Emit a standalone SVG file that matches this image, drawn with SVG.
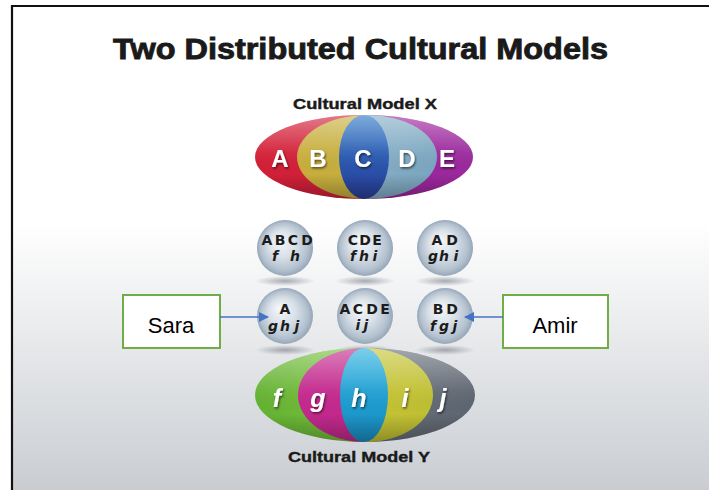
<svg xmlns="http://www.w3.org/2000/svg" width="709" height="490" viewBox="0 0 709 490">
<defs>
  <linearGradient id="bg" x1="0" y1="0" x2="0" y2="1">
    <stop offset="0" stop-color="#ffffff"/>
    <stop offset="0.45" stop-color="#ffffff"/>
    <stop offset="1" stop-color="#c9cdd2"/>
  </linearGradient>
  <linearGradient id="xOuter" x1="0" y1="0" x2="1" y2="0">
    <stop offset="0" stop-color="#d31f35"/>
    <stop offset="0.5" stop-color="#d0213f"/>
    <stop offset="0.5" stop-color="#a0229a"/>
    <stop offset="1" stop-color="#9a2a9e"/>
  </linearGradient>
  <linearGradient id="xMid" x1="0" y1="0" x2="1" y2="0">
    <stop offset="0" stop-color="#c9ad3c"/>
    <stop offset="0.5" stop-color="#c4b040"/>
    <stop offset="0.5" stop-color="#86aec6"/>
    <stop offset="1" stop-color="#7aa6bf"/>
  </linearGradient>
  <linearGradient id="xCen" x1="0" y1="0" x2="0" y2="1">
    <stop offset="0" stop-color="#2a74c4"/>
    <stop offset="1" stop-color="#2b3f9c"/>
  </linearGradient>
  <linearGradient id="yOuter" x1="0" y1="0" x2="1" y2="0">
    <stop offset="0" stop-color="#63b232"/>
    <stop offset="0.5" stop-color="#7cc23e"/>
    <stop offset="0.5" stop-color="#6a727c"/>
    <stop offset="1" stop-color="#5d6570"/>
  </linearGradient>
  <linearGradient id="yMid" x1="0" y1="0" x2="1" y2="0">
    <stop offset="0" stop-color="#c4288e"/>
    <stop offset="0.5" stop-color="#c22a8c"/>
    <stop offset="0.5" stop-color="#c6c436"/>
    <stop offset="1" stop-color="#bfbf32"/>
  </linearGradient>
  <linearGradient id="yCen" x1="0" y1="0" x2="0" y2="1">
    <stop offset="0" stop-color="#25aede"/>
    <stop offset="1" stop-color="#1a8fc4"/>
  </linearGradient>
  <linearGradient id="gloss" x1="0" y1="0" x2="0" y2="1">
    <stop offset="0" stop-color="#ffffff" stop-opacity="0.4"/>
    <stop offset="0.45" stop-color="#ffffff" stop-opacity="0.05"/>
    <stop offset="0.7" stop-color="#000000" stop-opacity="0"/>
    <stop offset="1" stop-color="#000000" stop-opacity="0.28"/>
  </linearGradient>
  <radialGradient id="sphere" cx="0.5" cy="0.5" r="0.5" fx="0.4" fy="0.35">
    <stop offset="0" stop-color="#f7f9fb"/>
    <stop offset="0.5" stop-color="#d7dfe7"/>
    <stop offset="0.85" stop-color="#b2c0ce"/>
    <stop offset="1" stop-color="#95a6b7"/>
  </radialGradient>
  <radialGradient id="shadow" cx="0.5" cy="0.5" r="0.5">
    <stop offset="0" stop-color="#5a626c" stop-opacity="0.5"/>
    <stop offset="1" stop-color="#5a626c" stop-opacity="0"/>
  </radialGradient>
  <filter id="ts" x="-20%" y="-20%" width="140%" height="140%">
    <feDropShadow dx="1" dy="1.5" stdDeviation="1" flood-color="#000" flood-opacity="0.6"/>
  </filter>
  <marker id="arr" viewBox="0 0 10 10" refX="9" refY="5" markerWidth="10" markerHeight="10" markerUnits="userSpaceOnUse" orient="auto">
    <path d="M0,0 L10,5 L0,10 Z" fill="#4472c4"/>
  </marker>
  <style>
    .title{font-family:"Liberation Sans",Arial,sans-serif;font-weight:bold;fill:#1a1a1a;stroke:#1a1a1a}
    .big{font-family:"Liberation Sans",Arial,sans-serif;font-weight:bold;fill:#ffffff;text-anchor:middle}
    .sp{font-family:"DejaVu Sans","Liberation Sans",sans-serif;font-weight:bold;fill:#1c1c1c;text-anchor:middle;font-size:14px}
    .spi{font-style:italic}
    .box{fill:#ffffff;stroke:#70ad47;stroke-width:2}
    .lbl{font-family:"Liberation Sans",Arial,sans-serif;font-size:22px;fill:#000;text-anchor:middle}
    .con{stroke:#4472c4;stroke-width:1.5;fill:none}
  </style>
</defs>
<rect x="0" y="0" width="709" height="490" fill="#ffffff"/>
<rect x="12" y="6" width="697" height="484" fill="url(#bg)"/>
<path d="M12,490 V6 H709" fill="none" stroke="#111" stroke-width="2.2"/>

<text class="title" x="113" y="59" font-size="30" stroke-width="0.9" textLength="495" lengthAdjust="spacingAndGlyphs">Two Distributed Cultural Models</text>

<g id="modelX">
  <text class="title" x="365" y="109" font-size="14.5" stroke-width="0.4" text-anchor="middle" textLength="144" lengthAdjust="spacingAndGlyphs">Cultural Model X</text>
  <ellipse cx="364" cy="157" rx="109" ry="42" fill="url(#xOuter)"/>
  <ellipse cx="367" cy="157" rx="70" ry="42" fill="url(#xMid)"/>
  <ellipse cx="364" cy="157" rx="25" ry="42" fill="url(#xCen)"/>
  <ellipse cx="364" cy="157" rx="109" ry="42" fill="url(#gloss)"/>
  <g filter="url(#ts)" font-size="24">
    <text class="big" x="280" y="167">A</text>
    <text class="big" x="318" y="167">B</text>
    <text class="big" x="363" y="167">C</text>
    <text class="big" x="407" y="167">D</text>
    <text class="big" x="447" y="167">E</text>
  </g>
</g>

<g id="spheres">
  <g id="s1">
    <ellipse cx="285" cy="281" rx="30" ry="5" fill="url(#shadow)"/>
    <circle cx="285" cy="248" r="28" fill="url(#sphere)"/>
    <text class="sp" x="267 280 293 307" y="245">ABCD</text>
    <text class="sp spi" x="275 295" y="261">fh</text>
  </g>
  <g id="s2">
    <ellipse cx="365" cy="281" rx="30" ry="5" fill="url(#shadow)"/>
    <circle cx="365" cy="248" r="28" fill="url(#sphere)"/>
    <text class="sp" x="353 365 377" y="245">CDE</text>
    <text class="sp spi" x="353 364 375" y="261">fhi</text>
  </g>
  <g id="s3">
    <ellipse cx="445" cy="281" rx="30" ry="5" fill="url(#shadow)"/>
    <circle cx="445" cy="248" r="28" fill="url(#sphere)"/>
    <text class="sp" x="437 452" y="245">AD</text>
    <text class="sp spi" x="433 444 456" y="261">ghi</text>
  </g>
  <g id="s4">
    <ellipse cx="285" cy="350" rx="30" ry="5" fill="url(#shadow)"/>
    <circle cx="285" cy="316" r="28" fill="url(#sphere)"/>
    <text class="sp" x="285" y="314">A</text>
    <text class="sp spi" x="273 285 297" y="331">ghj</text>
  </g>
  <g id="s5">
    <ellipse cx="365" cy="350" rx="30" ry="5" fill="url(#shadow)"/>
    <circle cx="365" cy="316" r="28" fill="url(#sphere)"/>
    <text class="sp" x="345 358 372 385" y="314">ACDE</text>
    <text class="sp spi" x="358 366" y="330">ij</text>
  </g>
  <g id="s6">
    <ellipse cx="445" cy="350" rx="30" ry="5" fill="url(#shadow)"/>
    <circle cx="445" cy="316" r="28" fill="url(#sphere)"/>
    <text class="sp" x="438 452" y="314">BD</text>
    <text class="sp spi" x="433 444 455" y="331">fgj</text>
  </g>
</g>

<g id="modelY">
  <ellipse cx="365" cy="395" rx="110" ry="47" fill="url(#yOuter)"/>
  <ellipse cx="365.5" cy="395" rx="67.5" ry="47" fill="url(#yMid)"/>
  <ellipse cx="364" cy="395" rx="24" ry="47" fill="url(#yCen)"/>
  <ellipse cx="365" cy="395" rx="110" ry="47" fill="url(#gloss)"/>
  <g filter="url(#ts)" font-size="25" font-style="italic">
    <text class="big" x="277" y="407">f</text>
    <text class="big" x="318" y="407">g</text>
    <text class="big" x="359" y="407">h</text>
    <text class="big" x="405" y="407">i</text>
    <text class="big" x="443" y="407">j</text>
  </g>
  <text class="title" x="359" y="462" font-size="15.5" stroke-width="0.4" text-anchor="middle" textLength="142" lengthAdjust="spacingAndGlyphs">Cultural Model Y</text>
</g>

<g id="sara">
  <rect class="box" x="123" y="295" width="97" height="53"/>
  <text class="lbl" x="171" y="333">Sara</text>
</g>
<g id="amir">
  <rect class="box" x="503" y="295" width="105" height="53"/>
  <text class="lbl" x="555" y="333">Amir</text>
</g>

<g id="connectors">
  <line class="con" x1="220" y1="317" x2="268" y2="317" marker-end="url(#arr)"/>
  <line class="con" x1="503" y1="317" x2="465" y2="317" marker-end="url(#arr)"/>
</g>
</svg>
